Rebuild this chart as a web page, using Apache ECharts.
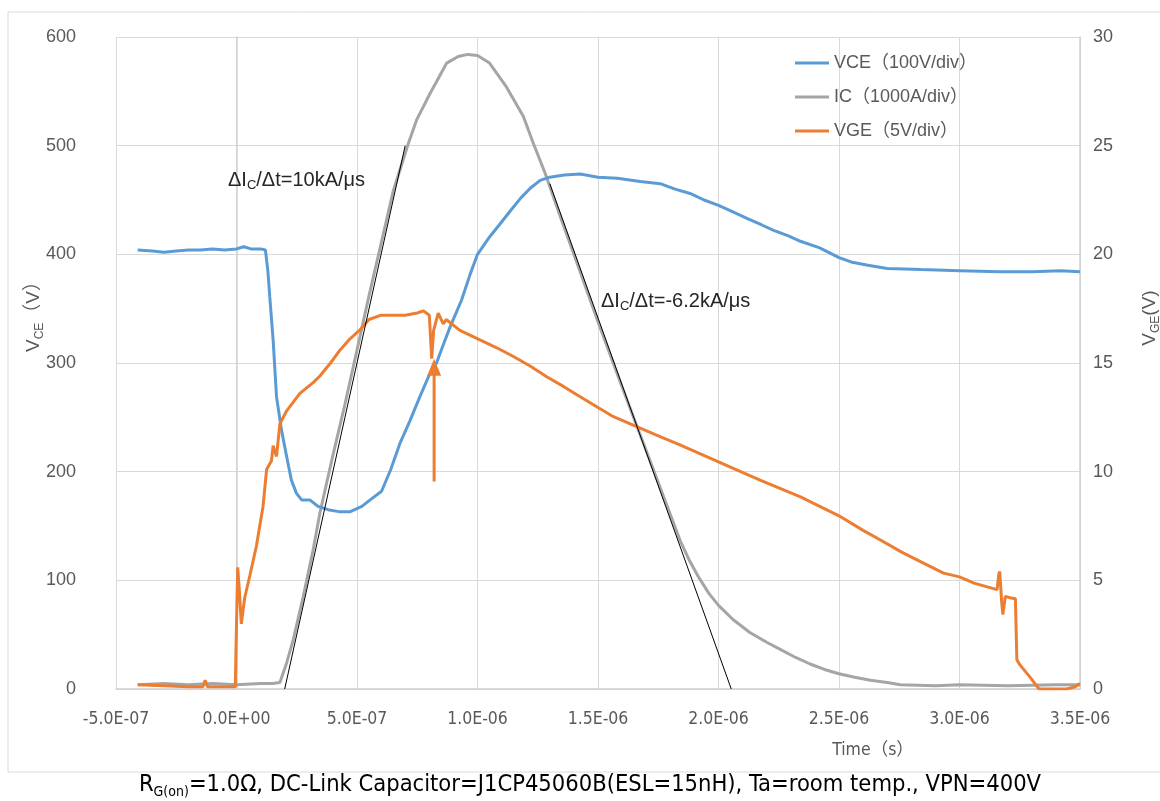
<!DOCTYPE html>
<html><head><meta charset="utf-8">
<script src="https://cdn.jsdelivr.net/npm/echarts@6/dist/echarts.min.js"></script>
<style>html,body{margin:0;padding:0;background:#fff}#c{width:1160px;height:801px}</style>
</head><body><div id="c"></div>
<script>
// time in microseconds, values in chart units
const seriesNames = ['VCE（100V/div）', 'IC（1000A/div）', 'VGE（5V/div）'];
const vceData = [[-0.41,404],[-0.35,403],[-0.3,402],[-0.25,403],[-0.2,404],[-0.15,404],[-0.1,405],[-0.05,404],[0.0,405],[0.03,407],[0.06,405],[0.1,405],[0.12,404],[0.13,385],[0.138,361],[0.152,321],[0.166,269],[0.187,238],[0.208,214],[0.228,192],[0.249,180],[0.27,174],[0.304,174],[0.339,168],[0.38,165],[0.43,163],[0.47,163],[0.52,168],[0.56,175],[0.602,182],[0.64,202],[0.678,226],[0.72,247],[0.761,269],[0.8,289],[0.83,300],[0.86,318],[0.886,333],[0.934,358],[0.97,382],[1.0,400],[1.05,416],[1.09,427],[1.14,441],[1.18,452],[1.22,461],[1.26,468],[1.3,471],[1.36,473],[1.426,474],[1.5,471],[1.58,470],[1.675,467],[1.758,465],[1.82,460],[1.882,456],[1.94,450],[2.0,445],[2.06,439],[2.118,433],[2.18,427],[2.229,422],[2.29,417],[2.34,412],[2.42,406],[2.5,397],[2.55,393],[2.62,390],[2.7,387],[2.84,386],[3.0,385],[3.17,384],[3.3,384],[3.42,385],[3.5,384]];
const icData = [[-0.41,4],[-0.3,5],[-0.2,4],[-0.1,5],[0.0,4],[0.1,5],[0.15,5],[0.18,6],[0.208,24],[0.235,45],[0.277,85],[0.318,128],[0.346,162],[0.4,215],[0.45,262],[0.5,312],[0.55,362],[0.6,410],[0.65,458],[0.713,502],[0.748,524],[0.803,548],[0.84,563],[0.872,576],[0.92,582],[0.96,584],[1.0,583],[1.05,576],[1.12,554],[1.19,527],[1.232,502],[1.28,475],[1.34,437],[1.4,400],[1.5,338],[1.6,278],[1.675,234],[1.75,190],[1.84,137],[1.88,118],[1.92,102],[1.96,88],[2.0,77],[2.06,64],[2.13,52],[2.2,43],[2.26,36],[2.32,29],[2.38,23],[2.44,18],[2.5,14],[2.56,11],[2.63,8],[2.7,6],[2.755,4],[2.9,3],[3.0,4],[3.2,3],[3.4,4],[3.5,4]];
const vgeData = [[-0.41,0.2],[-0.3,0.15],[-0.2,0.1],[-0.14,0.1],[-0.13,0.4],[-0.12,0.1],[-0.05,0.1],[-0.005,0.1],[0.0,3.0],[0.005,5.6],[0.012,4.5],[0.02,3.0],[0.034,4.2],[0.055,5.2],[0.083,6.6],[0.11,8.4],[0.125,10.1],[0.145,10.5],[0.152,11.2],[0.166,10.7],[0.18,12.2],[0.208,12.8],[0.263,13.6],[0.318,14.1],[0.346,14.4],[0.39,15.0],[0.43,15.6],[0.47,16.1],[0.51,16.5],[0.55,17.0],[0.6,17.2],[0.65,17.2],[0.7,17.2],[0.75,17.3],[0.775,17.4],[0.8,17.2],[0.81,15.2],[0.818,16.5],[0.837,17.3],[0.858,16.8],[0.87,17.0],[0.927,16.5],[1.01,16.06],[1.08,15.7],[1.149,15.3],[1.22,14.85],[1.287,14.37],[1.36,13.9],[1.426,13.45],[1.5,12.95],[1.564,12.53],[1.675,12.0],[1.76,11.6],[1.84,11.23],[2.0,10.45],[2.17,9.62],[2.34,8.84],[2.5,7.97],[2.6,7.3],[2.67,6.87],[2.76,6.3],[2.84,5.85],[2.934,5.33],[3.0,5.16],[3.06,4.87],[3.156,4.57],[3.163,5.3],[3.167,5.4],[3.175,4.0],[3.18,3.42],[3.19,4.26],[3.21,4.2],[3.232,4.15],[3.238,1.35],[3.25,1.12],[3.29,0.58],[3.33,0.0],[3.36,0.0],[3.445,0.0],[3.48,0.1],[3.5,0.25]];
const slopeUp = [[0.2,0],[0.7,500]];
const slopeDown = [[1.30,465],[2.053,0]];
const arrowPts = [[0.82,191],[0.82,296]];
const xRange = [-0.5, 3.5, 0.5];   // µs: min, max, interval
const yLeft = [0, 600, 100];
const yRight = [0, 30, 5];

const us = p => [p[0] * 1e-6, p[1]];
const FONT = "'Liberation Sans','Noto Sans CJK JP',sans-serif";
const NARROW = "'DejaVu Sans Condensed','Liberation Sans Narrow','Noto Sans CJK JP',sans-serif";
const fmtE = v => {
  const s = (Math.abs(v) < 1e-15 ? 0 : v).toExponential(1);
  const m = s.match(/^(-?[\d.]+)e([+-])(\d+)$/);
  return m[1] + 'E' + m[2] + (m[3].length < 2 ? '0' + m[3] : m[3]);
};
const C = ['#5B9BD5', '#A5A5A5', '#ED7D31'];

const chart = echarts.init(document.getElementById('c'), null, {renderer: 'canvas'});
chart.setOption({
  animation: false,
  backgroundColor: '#fff',
  textStyle: {fontFamily: FONT},
  grid: {left: 116, right: 80, top: 37, bottom: 112, containLabel: false},
  legend: {
    data: seriesNames, orient: 'vertical', left: 790, top: 48, icon: 'rect',
    itemWidth: 34, itemHeight: 3, itemGap: 14,
    textStyle: {fontSize: 18, color: '#595959', fontFamily: FONT, lineHeight: 20}
  },
  xAxis: {
    type: 'value', min: xRange[0] * 1e-6, max: xRange[1] * 1e-6, interval: xRange[2] * 1e-6,
    axisLine: {show: true, lineStyle: {color: '#d0d0d0', width: 1.5}},
    axisTick: {show: false},
    splitLine: {show: true, lineStyle: {color: '#d9d9d9', width: 1}},
    axisLabel: {formatter: fmtE, fontSize: 17.5, color: '#595959', margin: 22, fontFamily: NARROW}
  },
  yAxis: [{
    type: 'value', min: yLeft[0], max: yLeft[1], interval: yLeft[2],
    axisLine: {show: true, lineStyle: {color: '#d0d0d0', width: 1.5}},
    axisTick: {show: false},
    splitLine: {show: true, lineStyle: {color: '#d9d9d9', width: 1}},
    axisLabel: {fontSize: 18, color: '#595959', margin: 40}
  }, {
    type: 'value', min: yRight[0], max: yRight[1], interval: yRight[2], position: 'right',
    axisLine: {show: true, lineStyle: {color: '#d0d0d0', width: 1.5}},
    axisTick: {show: false},
    splitLine: {show: false},
    axisLabel: {fontSize: 18, color: '#595959', margin: 13}
  }],
  series: [
    {name: seriesNames[0], type: 'line', yAxisIndex: 0, data: vceData.map(us), symbol: 'none',
     lineStyle: {color: C[0], width: 3}, itemStyle: {color: C[0]}, z: 3},
    {name: seriesNames[1], type: 'line', yAxisIndex: 0, data: icData.map(us), symbol: 'none',
     lineStyle: {color: C[1], width: 3}, itemStyle: {color: C[1]}, z: 2},
    {name: seriesNames[2], type: 'line', yAxisIndex: 1, data: vgeData.map(us), symbol: 'none',
     lineStyle: {color: C[2], width: 3}, itemStyle: {color: C[2]}, z: 4},
    {name: 'slopeUp', type: 'line', yAxisIndex: 0, data: slopeUp.map(us), symbol: 'none', silent: true,
     lineStyle: {color: '#000', width: 1}, z: 5},
    {name: 'slopeDown', type: 'line', yAxisIndex: 0, data: slopeDown.map(us), symbol: 'none', silent: true,
     lineStyle: {color: '#000', width: 1}, z: 5},
    {name: 'arrow', type: 'line', yAxisIndex: 0, silent: true, z: 6,
     lineStyle: {color: C[2], width: 3}, itemStyle: {color: C[2]},
     data: [
       {value: us(arrowPts[0]), symbol: 'none',
        label: {show: true, position: 'bottom', distance: 4, offset: [66, 0], formatter: 'Soft shut-down start',
                fontSize: 17, color: '#262626', fontFamily: FONT}},
       {value: us(arrowPts[1]), symbol: 'triangle', symbolSize: [14, 17]}
     ]}
  ],
  graphic: [
    {type: 'rect', z: -10, shape: {x: 8, y: 12, width: 1170, height: 760},
     style: {fill: 'none', stroke: '#d9d9d9', lineWidth: 1}},
    {type: 'text', x: 228, y: 180, z: 10,
     style: {text: '{a|ΔI}{s|C}{a|/Δt=10kA/μs}', verticalAlign: 'middle',
       rich: {a: {fontSize: 20, fill: '#262626', fontFamily: FONT, lineHeight: 24},
              s: {fontSize: 13, fill: '#262626', fontFamily: FONT, lineHeight: 8, verticalAlign: 'bottom'}}}},
    {type: 'text', x: 601, y: 301, z: 10,
     style: {text: '{a|ΔI}{s|C}{a|/Δt=-6.2kA/μs}', verticalAlign: 'middle',
       rich: {a: {fontSize: 20, fill: '#262626', fontFamily: FONT, lineHeight: 24},
              s: {fontSize: 13, fill: '#262626', fontFamily: FONT, lineHeight: 8, verticalAlign: 'bottom'}}}},
    {type: 'text', x: 873, y: 750, z: 10,
     style: {text: 'Time（s）', align: 'center', verticalAlign: 'middle', fontSize: 17.5, fill: '#595959', fontFamily: NARROW}},
    {type: 'text', x: 34, y: 312, rotation: Math.PI / 2, z: 10,
     style: {text: '{a|V}{s|CE}{a|（V）}', align: 'center', verticalAlign: 'middle',
       rich: {a: {fontSize: 19, fill: '#595959', fontFamily: FONT, lineHeight: 24},
              s: {fontSize: 12, fill: '#595959', fontFamily: FONT, lineHeight: 8, verticalAlign: 'bottom'}}}},
    {type: 'text', x: 1150, y: 318, rotation: Math.PI / 2, z: 10,
     style: {text: '{a|V}{s|GE}{a|(V)}', align: 'center', verticalAlign: 'middle',
       rich: {a: {fontSize: 19, fill: '#595959', fontFamily: FONT, lineHeight: 24},
              s: {fontSize: 12, fill: '#595959', fontFamily: FONT, lineHeight: 8, verticalAlign: 'bottom'}}}},
    {type: 'text', x: 590, y: 785, z: 10,
     style: {text: '{a|R}{s|G(on)}{a|=1.0Ω, DC-Link Capacitor=J1CP45060B(ESL=15nH), Ta=room temp., VPN=400V}',
       align: 'center', verticalAlign: 'middle',
       rich: {a: {fontSize: 23.5, fill: '#000', fontFamily: NARROW, lineHeight: 28},
              s: {fontSize: 14, fill: '#000', fontFamily: NARROW, lineHeight: 8, verticalAlign: 'bottom'}}}}
  ]
});
</script>
</body></html>
